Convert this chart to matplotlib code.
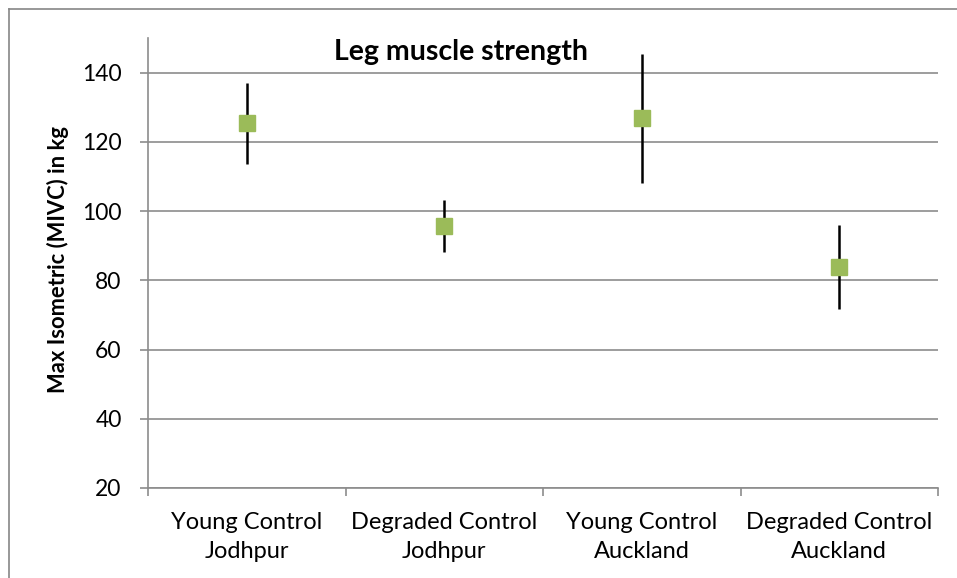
import matplotlib
matplotlib.use("Agg")
import matplotlib.pyplot as plt
from matplotlib.lines import Line2D

categories = ["Young Control\nJodhpur", "Degraded Control\nJodhpur",
              "Young Control\nAuckland", "Degraded Control\nAuckland"]
means = [125.3, 95.8, 126.8, 83.7]
err_low = [113.6, 88.2, 108.1, 71.7]
err_high = [137.0, 103.3, 145.3, 96.1]
yticks = [20, 40, 60, 80, 100, 120, 140]

plt.rcParams['font.family'] = ['Lato', 'DejaVu Sans']

W, H = 957, 578
fig = plt.figure(figsize=(W/100, H/100), dpi=100)
ax = fig.add_axes([148/W, 1-488/H, (938-148)/W, (488-38)/H])

x = list(range(len(categories)))
lower = [m - l for m, l in zip(means, err_low)]
upper = [h - m for m, h in zip(means, err_high)]
ax.errorbar(x, means, yerr=[lower, upper], fmt='none', ecolor='black',
            elinewidth=1.8, capsize=0, zorder=3)
ax.plot(x, means, linestyle='none', marker='s', markersize=11,
        markerfacecolor='#9BBB59', markeredgecolor='#9BBB59', zorder=4)

ax.set_xlim(-0.5, len(categories) - 0.5)
ax.set_ylim(20, 150)
ax.set_yticks(yticks)
ax.set_yticklabels([str(t) for t in yticks], fontsize=16.5)
ax.yaxis.grid(True, color='#8C8C8C', linewidth=1.2)
ax.set_axisbelow(True)

ax.set_xticks([i + 0.5 for i in range(-1, len(categories))], minor=False)
ax.set_xticklabels([])
ax.set_xticks(x, minor=True)
ax.set_xticklabels(categories, minor=True, fontsize=17, linespacing=1.5)
ax.tick_params(axis='x', which='minor', length=0, pad=17)
ax.tick_params(axis='x', which='major', length=6, color='#8C8C8C', width=1.2)
ax.tick_params(axis='y', length=6, color='#8C8C8C', width=1.2, pad=13)

for s in ['top', 'right']:
    ax.spines[s].set_visible(False)
for s in ['left', 'bottom']:
    ax.spines[s].set_color('#8C8C8C')
    ax.spines[s].set_linewidth(1.2)

fig.text(58/W, 1-260/H, "Max Isometric (MIVC) in kg", fontsize=15.8, fontweight='bold',
         rotation=90, ha='center', va='center')
fig.text(461/W, 1-60/H, "Leg muscle strength", fontsize=20.5, fontweight='bold',
         ha='center', va='baseline')

# outer chart border
fig.add_artist(Line2D([8.5/W, 8.5/W], [0, 1-9/H], transform=fig.transFigure,
                      color='#868686', linewidth=1.2))
fig.add_artist(Line2D([8.5/W, 1], [1-9/H, 1-9/H], transform=fig.transFigure,
                      color='#868686', linewidth=1.2))

fig.savefig("out.png", dpi=100)
